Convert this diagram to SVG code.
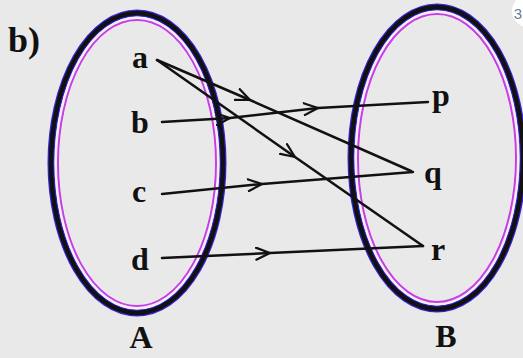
<svg xmlns="http://www.w3.org/2000/svg" width="523" height="358" viewBox="0 0 523 358">
<defs>
<style>
.lbl{font-family:"Liberation Serif","DejaVu Serif",serif;font-weight:bold;font-size:32px;fill:#111;text-anchor:middle}
.setblue{fill:none;stroke:#3424d6;stroke-width:7}
.setblack{fill:none;stroke:#111;stroke-width:4.5}
.setwhite{fill:none;stroke:#f6eefa;stroke-width:5}
.setmag{fill:none;stroke:#c640e0;stroke-width:2}
.edge{fill:none;stroke:#111;stroke-width:2.5;stroke-linejoin:round;stroke-linecap:round;marker-mid:url(#chev)}
</style>
<marker id="chev" viewBox="0 0 16 14" refX="15" refY="7" markerWidth="16" markerHeight="14" markerUnits="userSpaceOnUse" orient="auto">
<path d="M1,1 L15,7 L1,13" fill="none" stroke="#111" stroke-width="2.2" stroke-linecap="round" stroke-linejoin="round"/>
</marker>
</defs>
<rect width="523" height="358" fill="#e9e9e9"/>
<g id="corner">
<circle cx="528" cy="11" r="16" fill="#ffffff"/>
<text x="522" y="19" text-anchor="end" font-family="Liberation Sans, sans-serif" font-size="15" fill="#6a7a90">3</text>
</g>
<text x="8" y="52" font-family="Liberation Serif, DejaVu Serif, serif" font-weight="bold" font-size="36" fill="#111">b)</text>
<g id="setA">
<ellipse cx="137" cy="163" rx="86" ry="150" class="setblue"/>
<ellipse cx="137" cy="163" rx="86" ry="150" class="setblack"/>
<ellipse cx="137" cy="163" rx="80" ry="144" class="setwhite"/>
<ellipse cx="137" cy="163" rx="79" ry="143" class="setmag"/>
<text x="141" y="348" class="lbl">A</text>
</g>
<g id="setB">
<ellipse cx="437" cy="158" rx="86" ry="151" class="setblue"/>
<ellipse cx="437" cy="158" rx="86" ry="151" class="setblack"/>
<ellipse cx="437" cy="158" rx="80" ry="145" class="setwhite"/>
<ellipse cx="437" cy="158" rx="79" ry="144" class="setmag"/>
<text x="446" y="347" class="lbl">B</text>
</g>
<g id="node-a"><text x="140" y="68" class="lbl">a</text></g>
<g id="node-b"><text x="140" y="133" class="lbl">b</text></g>
<g id="node-c"><text x="139" y="202" class="lbl">c</text></g>
<g id="node-d"><text x="140" y="270" class="lbl">d</text></g>
<g id="node-p"><text x="441" y="106" class="lbl">p</text></g>
<g id="node-q"><text x="433" y="183" class="lbl">q</text></g>
<g id="node-r"><text x="438" y="260" class="lbl">r</text></g>
<g id="connectors">
<polyline class="edge" points="157,60 250,100 411,171"/>
<polyline class="edge" points="157,60 295,157 423,246"/>
<polyline class="edge" points="162,122 230,118 318,108 428,102"/>
<polyline class="edge" points="162,194 262,184 413,172"/>
<polyline class="edge" points="162,258 270,253 423,246"/>
</g>
</svg>
